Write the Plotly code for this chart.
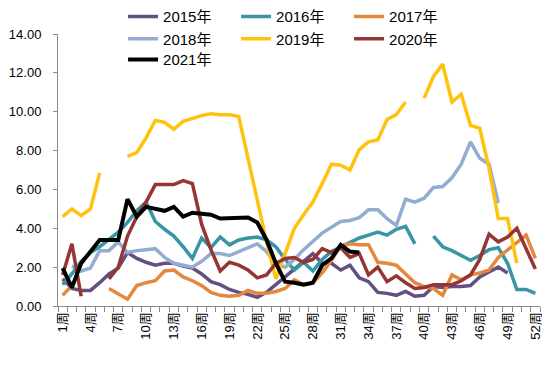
import plotly.graph_objects as go

weeks = [f"{i}周" for i in range(1, 53)]
week_num = list(range(1, 53))
N = None

s2015 = [1.4, 0.9, 0.8, 0.8, 1.2, 1.65, 1.95, 2.75, 2.45, 2.25,
         2.1, 2.2, 2.2, 2.05, 1.95, 1.65, 1.25, 1.1, 0.85, 0.7,
         0.6, 0.45, 0.7, 1.1, 1.45, 1.85, 2.25, 2.7, 2.2, 2.2,
         1.85, 2.1, 1.45, 1.25, 0.7, 0.65, 0.55, 0.75, 0.5, 0.55,
         1.0, 0.95, 1.0, 1.0, 1.05, 1.5, 1.75, 2.0, 1.7, N, N, N]
s2016 = [1.1, 1.65, 2.3, 2.75, 3.05, 3.4, 3.8, 4.3, 4.9, 5.35,
         4.35, 3.95, 3.6, 3.05, 2.45, 3.5, 3.0, 3.55, 3.15, 3.4,
         3.5, 3.55, 3.4, 3.05, 2.4, 1.85, 2.25, 1.8, 2.4, 2.8,
         3.05, 3.25, 3.5, 3.65, 3.8, 3.65, 3.95, 4.1, 3.2, N,
         3.6, 3.05, 2.85, 2.6, 2.35, 2.6, 2.9, 3.0, 2.2, 0.85, 0.85, 0.65]
s2017 = [0.55, 1.05, N, N, N, 0.9, 0.65, 0.35, 1.05, 1.2,
         1.3, 1.8, 1.85, 1.5, 1.3, 1.05, 0.7, 0.55, 0.5, 0.55,
         0.8, 0.65, 0.65, 0.75, 0.9, 1.35, 1.1, 1.2, 1.7, 2.35,
         3.1, 3.2, 3.15, 3.15, 2.25, 2.2, 2.1, 1.65, 1.2, 1.0,
         0.9, 0.55, 1.6, 1.35, 1.6, 1.7, 1.85, 2.5, 2.9, 3.3, 3.65, 2.45]
s2018 = [N, 2.05, 1.8, 1.95, 2.85, 2.85, 3.3, 2.75, 2.85, 2.9,
         2.95, 2.5, 2.2, 2.1, 2.0, 2.3, 2.7, 2.7, 2.6, 2.8,
         3.0, 3.2, 2.8, 2.2, 2.0, 2.4, 2.9, 3.35, 3.75, 4.05,
         4.35, 4.4, 4.55, 4.95, 4.95, 4.5, 4.15, 5.5, 5.35, 5.55,
         6.1, 6.15, 6.6, 7.3, 8.45, 7.6, 7.3, 5.3, N, N, N, N]
s2019 = [4.6, 5.0, 4.65, 5.0, 6.85, N, N, 7.7, 7.9, 8.65,
         9.55, 9.45, 9.1, 9.5, 9.65, 9.8, 9.9, 9.85, 9.85, 9.75,
         7.6, 5.4, 3.3, 1.4, 2.7, 4.0, 4.7, 5.35, 6.3, 7.3,
         7.25, 7.0, 8.05, 8.45, 8.55, 9.6, 9.85, 10.5, N, 10.7,
         11.8, 12.45, 10.5, 10.9, 9.3, 9.15, 7.1, 4.5, 4.5, 2.2, N, N]
s2020 = [1.6, 3.2, 0.5, N, N, 1.4, 2.0, 3.6, 4.6, 5.35,
         6.25, 6.25, 6.25, 6.45, 6.3, 4.2, 2.9, 1.8, 2.25, 2.1,
         1.85, 1.45, 1.6, 2.2, 2.45, 2.5, 2.25, 2.4, 2.95, 2.75,
         3.0, 2.5, 2.7, 1.6, 2.0, 1.25, 1.55, 1.2, 0.9, 0.95,
         1.1, 1.1, 1.1, 1.3, 1.6, 2.4, 3.7, 3.3, 3.55, 4.0, 3.0, 1.9]
s2021 = [1.95, 0.95, 2.2, 2.8, 3.4, 3.4, 3.4, 5.5, 4.6, 5.1,
         5.0, 4.9, 5.1, 4.6, 4.8, 4.75, 4.7, 4.5, 4.5, 4.55,
         4.55, 4.3, 3.4, 2.2, 1.25, 1.2, 1.1, 1.2, 2.1, 2.45,
         3.15, 2.8, 2.75] + [N] * 19

series_names = ["2015年", "2016年", "2017年", "2018年", "2019年", "2020年", "2021年"]
series_values = [s2015, s2016, s2017, s2018, s2019, s2020, s2021]
colors = ["#634F80", "#3795A5", "#E3883C", "#93ACD2", "#FFC20E", "#963634", "#000000"]
widths = [3.5, 3.5, 3.5, 3.5, 3.5, 3.5, 4]
legend_ids = ["legend", "legend", "legend", "legend2", "legend2", "legend2", "legend3"]

font_family = "Liberation Sans, Noto Sans CJK SC, sans-serif"

fig = go.Figure()
for name, vals, c, w, lg in zip(series_names, series_values, colors, widths, legend_ids):
    fig.add_trace(go.Scatter(
        x=week_num, y=vals, name=name, mode="lines",
        line=dict(color=c, width=w), connectgaps=False, legend=lg,
    ))

tick_idx = list(range(0, 52, 3))
leg_common = dict(orientation="h", x=0.135, xanchor="left", yanchor="middle",
                  entrywidth=68, bgcolor="rgba(0,0,0,0)",
                  font=dict(family=font_family, size=15, color="#000"))

fig.update_layout(
    width=542, height=359,
    margin=dict(l=50, r=10, t=26, b=61, autoexpand=False),
    paper_bgcolor="white", plot_bgcolor="white",
    font=dict(family=font_family, color="#000"),
    showlegend=True,
    legend=dict(y=1.063, **leg_common),
    legend2=dict(y=0.982, **leg_common),
    legend3=dict(y=0.905, **leg_common),
    xaxis=dict(
        range=[0.5, 52.5], showgrid=False, zeroline=False,
        showline=True, linecolor="#8C8C8C", linewidth=1,
        tickvals=[week_num[i] for i in tick_idx],
        ticktext=[weeks[i] for i in tick_idx],
        ticks="", tickangle=-90,
        tickfont=dict(size=13, family=font_family),
        minor=dict(ticks="outside", tick0=0.5, dtick=1, ticklen=5,
                   tickcolor="#8C8C8C", showgrid=False),
    ),
    yaxis=dict(
        range=[0, 14], dtick=2, tickformat=".2f", showgrid=False,
        zeroline=False, showline=True, linecolor="#8C8C8C", linewidth=1,
        ticks="outside", ticklen=4, tickcolor="#8C8C8C",
        ticklabelstandoff=9,
        tickfont=dict(size=13, family=font_family),
    ),
)

fig.write_html("out.html")
